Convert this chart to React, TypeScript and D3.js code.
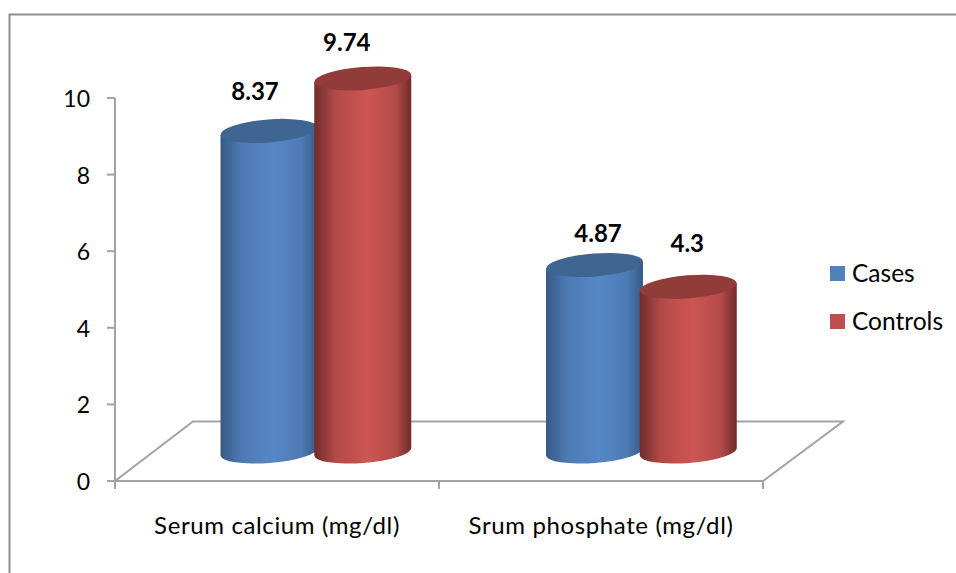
import React from "react";
import * as d3 from "d3";

const categories = ["Serum calcium (mg/dl)", "Srum phosphate (mg/dl)"];
const seriesNames = ["Cases", "Controls"];
const cases = [8.37, 4.87];
const controls = [9.74, 4.3];
const yTicks = [0, 2, 4, 6, 8, 10];
const font = "Lato, Carlito, sans-serif";
const gridColor = "#a3a3a3";

const colors = [
  { id: "blue", edge: "#375a84", mid: "#5687c6", top: "#3f6692", legend: "#4f81bd" },
  { id: "red", edge: "#702c2a", mid: "#cd5653", top: "#923c39", legend: "#c0504d" },
];

const labelDx = [[-14, -16], [3.5, -1]];
const labelDy = [[30.5, 27], [23, 35]];
const pairShift = [38.5, 40];

export default function App() {
  const y = d3.scaleLinear().domain([0, 10]).range([481, 98]);
  const x = d3.scaleBand().domain(categories).range([115, 763]);
  const depth = 29.5;
  const rx = 48.5;
  const ry = 11.5;
  const tilt = -4.5;
  const barOffset = [-46.5, 47.25];
  const series = [cases, controls];

  return (
    <svg width={956} height={573} style={{ position: "absolute", left: 0, top: 0, background: "#fff" }}>
      <defs>
        {colors.map((c) => (
          <linearGradient id={c.id} key={c.id} x1="0" x2="1" y1="0" y2="0">
            <stop offset="0" stopColor={c.edge} />
            <stop offset="0.22" stopColor={d3.interpolateRgb(c.edge, c.mid)(0.72)} />
            <stop offset="0.55" stopColor={c.mid} />
            <stop offset="0.84" stopColor={d3.interpolateRgb(c.edge, c.mid)(0.72)} />
            <stop offset="1" stopColor={c.edge} />
          </linearGradient>
        ))}
      </defs>

      {/* outer frame */}
      <path d="M9.5,573V14.5H956" fill="none" stroke="#8f8f8f" strokeWidth={2} />

      {/* floor */}
      <path
        d={`M${x.range()[0]},${y(0)}L193,421.5H843L${x.range()[1]},${y(0)}Z`}
        fill="none"
        stroke={gridColor}
        strokeWidth={2}
      />

      {/* y axis */}
      <line x1={115} x2={115} y1={y(10)} y2={489} stroke={gridColor} strokeWidth={2} />
      {yTicks.map((t) => (
        <g key={t}>
          <line x1={107} x2={115} y1={y(t)} y2={y(t)} stroke={gridColor} strokeWidth={2} />
          <text x={90} y={y(t) + 9} textAnchor="end" fontFamily={font} fontSize={23} fill="#000">
            {t}
          </text>
        </g>
      ))}

      {/* x axis ticks */}
      {[...categories.map((c) => x(c)!), x.range()[1]].map((p) => (
        <line key={p} x1={p} x2={p} y1={481} y2={489} stroke={gridColor} strokeWidth={2} />
      ))}
      {categories.map((c) => (
        <text
          key={c}
          x={x(c)! + x.bandwidth() / 2}
          y={534}
          textAnchor="middle"
          fontFamily={font}
          fontSize={24}
          letterSpacing={0.62}
          fill="#000"
        >
          {c}
        </text>
      ))}

      {/* cylinders */}
      {categories.map((c, ci) => {
        const center = x(c)! + x.bandwidth() / 2 + pairShift[ci];
        return series.map((vals, si) => {
          const v = vals[ci];
          const cx = center + barOffset[si];
          const base = y(0) - depth;
          const top = y(v) - depth;
          const t = (tilt * Math.PI) / 180;
          const dy = rx * Math.sin(-t);
          const d = `M${cx - rx},${top + dy}L${cx - rx},${base + dy}A${rx},${ry} ${tilt} 0 0 ${cx + rx},${base - dy}L${cx + rx},${top - dy}Z`;
          return (
            <g key={`${ci}-${si}`}>
              <path d={d} fill={`url(#${colors[si].id})`} />
              <ellipse
                cx={cx}
                cy={top}
                rx={rx}
                ry={ry}
                transform={`rotate(${tilt} ${cx} ${top})`}
                fill={colors[si].top}
              />
              <text
                x={cx + labelDx[ci][si]}
                y={top - labelDy[ci][si]}
                textAnchor="middle"
                fontFamily={font}
                fontWeight={700}
                fontSize={24}
                fill="#000"
              >
                {v}
              </text>
            </g>
          );
        });
      })}

      {/* legend */}
      {seriesNames.map((n, i) => (
        <g key={n}>
          <rect x={830} y={266 + i * 48} width={15} height={15} fill={colors[i].legend} />
          <text x={852} y={282 + i * 48} fontFamily={font} fontSize={24.5} fill="#000">
            {n}
          </text>
        </g>
      ))}
    </svg>
  );
}
